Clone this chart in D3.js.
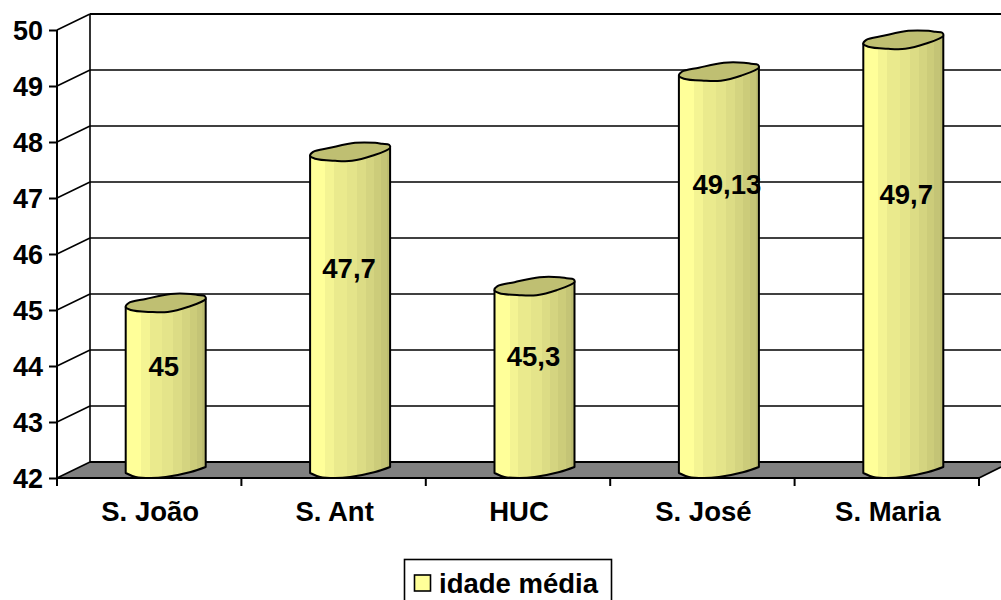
<!DOCTYPE html>
<html><head><meta charset="utf-8">
<script src="https://cdn.jsdelivr.net/npm/d3@7"></script>
<style>html,body{margin:0;padding:0;background:#fff;overflow:hidden}svg{display:block}
text{font-family:"Liberation Sans",Arial,sans-serif;font-weight:bold;fill:#000}</style>
</head><body><svg id="c" width="1001" height="600"></svg>
<script>
const categories = ["S. João","S. Ant","HUC","S. José","S. Maria"];
const values = [45,47.7,45.3,49.13,49.7];
const valueLabels = ["45","47,7","45,3","49,13","49,7"];
const tickValues = [42,43,44,45,46,47,48,49,50];
const seriesName = "idade média";

// layout only
const M = {x0:57,x1:979,y0:478,y1:30,dx:33,dy:-16,right:1001,fs:27.5};
const labelDx = [-2,-1,-1,8,3];
const labelY = [366,268,356,184,194];
const shades = ["#ffff99","#f4f493","#eaea8d","#e4e48a","#dcdc85","#d4d480","#cccc7a","#c4c476","#bcbc70"];
const capColor = "#bfbf72";

const svg = d3.select("#c");
const x = d3.scaleBand().domain(categories).range([M.x0,M.x1]);
const y = d3.scaleLinear().domain([42,50]).range([M.y0,M.y1]);
const backX = M.x0+M.dx, bot = y(42);

// floor
svg.append("path").attr("d",`M${M.x0},${bot}L${backX},${bot+M.dy}L${M.right},${bot+M.dy}L${M.right},${bot-11}L${M.x1},${bot}Z`).attr("fill","#808080");

// walls: gridlines
tickValues.forEach(t=>{
  const yy=y(t);
  svg.append("line").attr("x1",M.x0).attr("y1",yy).attr("x2",backX).attr("y2",yy+M.dy).attr("stroke","#000").attr("stroke-width",1.6);
  svg.append("line").attr("x1",backX).attr("y1",yy+M.dy).attr("x2",M.right).attr("y2",yy+M.dy).attr("stroke","#000").attr("stroke-width",t===42||t===50?2:1.6);
});
svg.append("line").attr("x1",backX).attr("x2",backX).attr("y1",y(50)+M.dy).attr("y2",bot+M.dy).attr("stroke","#000").attr("stroke-width",1.6);

// axes
const axL = d3.axisLeft(y).tickValues(tickValues).tickSize(8).tickPadding(6).tickFormat(d3.format("d"));
const gL = svg.append("g").attr("transform",`translate(${M.x0},0)`).call(axL);
gL.selectAll("line,path").attr("stroke","#000").attr("stroke-width",2);
gL.select("path").attr("d",`M0,${y(42)}V${y(50)}`);
gL.selectAll("text").attr("font-size",27).attr("fill","#000").attr("font-family",null).attr("transform","translate(0,1)");

svg.append("line").attr("x1",M.x0).attr("x2",M.x1).attr("y1",bot).attr("y2",bot).attr("stroke","#000").attr("stroke-width",2);
svg.append("line").attr("x1",M.x1).attr("y1",bot).attr("x2",M.right).attr("y2",bot-11).attr("stroke","#000").attr("stroke-width",1.6);
x.domain().forEach((c,i)=>{
  [x(c), i===categories.length-1?M.x1:null].forEach(px=>{ if(px!==null)
    svg.append("line").attr("x1",px).attr("x2",px).attr("y1",bot).attr("y2",bot+8).attr("stroke","#000").attr("stroke-width",2);});
  svg.append("text").attr("x",x(c)+x.bandwidth()/2+1).attr("y",bot+43).attr("text-anchor","middle").attr("font-size",M.fs).text(c);
});

// bars
const defs = svg.append("defs");
const g = defs.append("linearGradient").attr("id","cyl").attr("x1",0).attr("x2",1).attr("y1",0).attr("y2",0);
const edges=[0,.19,.30,.46,.59,.70,.80,.89,.96,1.0];
shades.forEach((s,i)=>{
  g.append("stop").attr("offset",edges[i]).attr("stop-color",s);
  g.append("stop").attr("offset",edges[i+1]).attr("stop-color",s);
});
// outline of cap & base relative to the bar's centre (w=80)
const capLower=[[-40,5],[-35,8],[-15,10],[2,10],[22,5],[40,-3]];
const capUpper=[[39,-6],[32,-7],[25,-8],[5,-8],[-20,-3],[-37,1]];
const baseLower=[[40,-11],[25,-6],[0,-1],[-15,0],[-30,-1],[-40,-5]];
const curve=d3.line().curve(d3.curveCatmullRom.alpha(0.5));
const closed=d3.line().curve(d3.curveCatmullRomClosed.alpha(0.5));
values.forEach((v,i)=>{
  const cx=x(categories[i])+x.bandwidth()/2+M.dx/2;
  const top=y(v)-8, b=bot;
  const body=`M${cx-40},${top+5}L${cx-40},${b-5}`+curve(baseLower.slice().reverse().map(p=>[cx+p[0],b+p[1]])).replace(/^M[^C]*/,"")+`L${cx+40},${top-3}Z`;
  svg.append("path").attr("d",body).attr("fill","url(#cyl)").attr("stroke","#000").attr("stroke-width",2).attr("stroke-linejoin","round");
  const cap=[...capLower,...capUpper].map(p=>[cx+p[0],top+p[1]]);
  svg.append("path").attr("d",closed(cap)).attr("fill",capColor).attr("stroke","#000").attr("stroke-width",2).attr("stroke-linejoin","round");
});
values.forEach((v,i)=>{
  const cx=x(categories[i])+x.bandwidth()/2+M.dx/2;
  svg.append("text").attr("x",cx+labelDx[i]).attr("y",labelY[i]+9.5).attr("text-anchor","middle").attr("font-size",M.fs).text(valueLabels[i]);
});

// legend
svg.append("rect").attr("x",404.5).attr("y",559.5).attr("width",207).attr("height",50).attr("fill","#fff").attr("stroke","#000").attr("stroke-width",1.6);
svg.append("rect").attr("x",414.5).attr("y",575).attr("width",16).attr("height",16).attr("fill",shades[0]).attr("stroke","#000").attr("stroke-width",1.6);
svg.append("text").attr("x",439).attr("y",593).attr("font-size",M.fs).text(seriesName);
</script></body></html>
